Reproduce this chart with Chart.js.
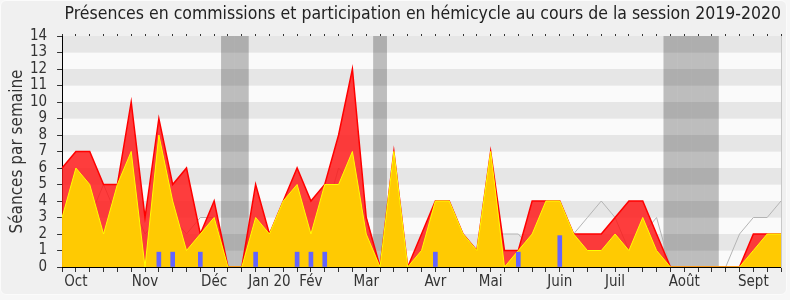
<!DOCTYPE html>
<html>
<head>
<meta charset="utf-8">
<script src="https://cdn.jsdelivr.net/npm/chart.js@4/dist/chart.umd.min.js"></script>
<style>
  html, body { margin: 0; background: #f7f7f7; }
  #wrap { box-sizing: border-box; width: 787px; height: 295px; background: #f0f0f0;
          border: 1px solid #fbfbfb; border-radius: 6px; }
</style>
</head>
<body>
<div id="wrap"><canvas id="chart"></canvas></div>
<script>
// une valeur par semaine de la session (53 semaines)
const weekLabels = ['', 'Oct', '', '', '', '', 'Nov', '', '', '', '', 'Déc', '', '', '', 'Jan 20', '', '', 'Fév', '', '', '', 'Mar', '', '', '', '', 'Avr', '', '', '', 'Mai', '', '', '', '', 'Juin', '', '', '', 'Juil', '', '', '', '', 'Août', '', '', '', '', 'Sept', '', ''];
const hemicycle   = [6, 7, 7, 5, 5, 10, 3, 9, 5, 6, 2, 4, 0, 0, 5, 2, 4, 6, 4, 5, 8, 12, 3, 0, 7, 0, 2, 4, 4, 2, 1, 7, 1, 1, 4, 4, 4, 2, 2, 2, 3, 4, 4, 2, 0, 0, 0, 0, 0, 0, 2, 2, 2];
const commissions = [3, 6, 5, 2, 5, 7, 0, 8, 4, 1, 2, 3, 0, 0, 3, 2, 4, 5, 2, 5, 5, 7, 2, 0, 7, 0, 1, 4, 4, 2, 1, 7, 0, 1, 2, 4, 4, 2, 1, 1, 2, 1, 3, 1, 0, 0, 0, 0, 0, 0, 1, 2, 2];
const mediane     = [3, 4, 3, 5, 3, 4, 2, 3, 3, 2, 3, 3, 0, 0, 3, 2, 2, 3, 2, 3, 6, 5, 3, 0, 3, 0, 0, 1, 2, 1, 1, 2, 2, 2, 1, 2, 2, 2, 3, 4, 3, 1, 2, 3, 0, 0, 0, 0, 0, 2, 3, 3, 4];
const questions   = [null, null, null, null, null, null, null, 0.9, 0.9, null, 0.9, null, null, null, 0.9, null, null, 0.9, 0.9, 0.9, null, null, null, null, null, null, null, 0.9, null, null, null, null, null, 0.9, null, null, 1.9, null, null, null, null, null, null, null, null, null, null, null, null, null, null, null, null];
const vacances    = [null, null, null, null, null, null, null, null, null, null, null, null, 14, 14, null, null, null, null, null, null, null, null, null, 14, null, null, null, null, null, null, null, null, null, null, null, null, null, null, null, null, null, null, null, null, 14, 14, 14, 14, null, null, null, null, null];
const yTicks = [0, 1, 2, 3, 4, 5, 6, 7, 8, 9, 10, 11, 12, 13, 14];

const FONT = "'DejaVu Sans Condensed', 'DejaVu Sans', sans-serif";

const stripes = {
  id: 'stripes',
  beforeDraw(chart) {
    const { ctx, chartArea: a, scales: { y } } = chart;
    ctx.save();
    for (let i = 0; i < yTicks.length - 1; i++) {
      const top = y.getPixelForValue(yTicks[i + 1]);
      const bot = y.getPixelForValue(yTicks[i]);
      ctx.fillStyle = i % 2 ? '#e6e6e6' : '#fafafa';
      ctx.fillRect(a.left, top, a.right - a.left, bot - top);
    }
    ctx.restore();
  }
};

new Chart(document.getElementById('chart'), {
  type: 'line',
  data: {
    labels: weekLabels,
    datasets: [
      {
        type: 'bar', label: 'Vacances', data: vacances,
        backgroundColor: 'rgba(0,0,0,0.245)', borderWidth: 0, inflateAmount: 0,
        barPercentage: 1, categoryPercentage: 1, grouped: false, order: 10
      },
      {
        label: 'Médiane', data: mediane,
        borderColor: '#b4b4b4', borderWidth: 1, pointRadius: 0, tension: 0, fill: false, order: 5
      },
      {
        label: 'Hémicycle', data: hemicycle,
        borderColor: '#ff0000', borderWidth: 1.5, backgroundColor: 'rgba(255,20,20,0.82)',
        pointRadius: 0, tension: 0, fill: 'origin', order: 4
      },
      {
        label: 'Commissions', data: commissions,
        borderColor: '#ffff00', borderWidth: 1, backgroundColor: 'rgba(255,208,0,0.96)',
        pointRadius: 0, tension: 0, fill: 'origin', order: 3
      },
      {
        type: 'bar', label: 'Questions', data: questions,
        backgroundColor: '#6464ff', barThickness: 4, grouped: false, order: 1
      }
    ]
  },
  plugins: [stripes],
  options: {
    responsive: true,
    maintainAspectRatio: false,
    animation: false,
    layout: { padding: { left: 0, right: 5, top: 1, bottom: 2 } },
    plugins: {
      legend: { display: false },
      tooltip: { enabled: false },
      title: {
        display: true, align: 'end',
        text: 'Présences en commissions et participation en hémicycle au cours de la session 2019-2020',
        color: '#222', font: { family: FONT, size: 17.5, weight: 'normal' },
        padding: { top: 2, bottom: 9 }
      }
    },
    scales: {
      x: {
        offset: false,
        grid: { offset: false, drawOnChartArea: false, tickLength: 5, color: '#333' },
        border: { color: '#000', width: 1 },
        ticks: { autoSkip: false, maxRotation: 0, padding: 1, color: '#333', font: { family: FONT, size: 15 } }
      },
      x2: {
        type: 'category', position: 'top', offset: false,
        grid: { offset: false, drawOnChartArea: false, tickLength: 2, color: '#333' },
        border: { display: false },
        ticks: { display: false }
      },
      y: {
        min: 0, max: 14,
        afterBuildTicks(scale) { scale.ticks = yTicks.map(v => ({ value: v })); },
        grid: { drawOnChartArea: false, tickLength: 5, color: '#333' },
        border: { color: '#000', width: 1 },
        ticks: { autoSkip: false, padding: 10, color: '#333', font: { family: FONT, size: 15 } },
        title: {
          display: true, text: 'Séances par semaine', color: '#333',
          font: { family: FONT, size: 17 }, padding: { top: 6, bottom: -7.5 }
        }
      },
      y2: {
        position: 'right', min: 0, max: 14,
        grid: { display: false, drawTicks: false },
        border: { color: '#c8c8c8', width: 1 },
        ticks: { display: false }
      }
    }
  }
});
</script>
</body>
</html>
